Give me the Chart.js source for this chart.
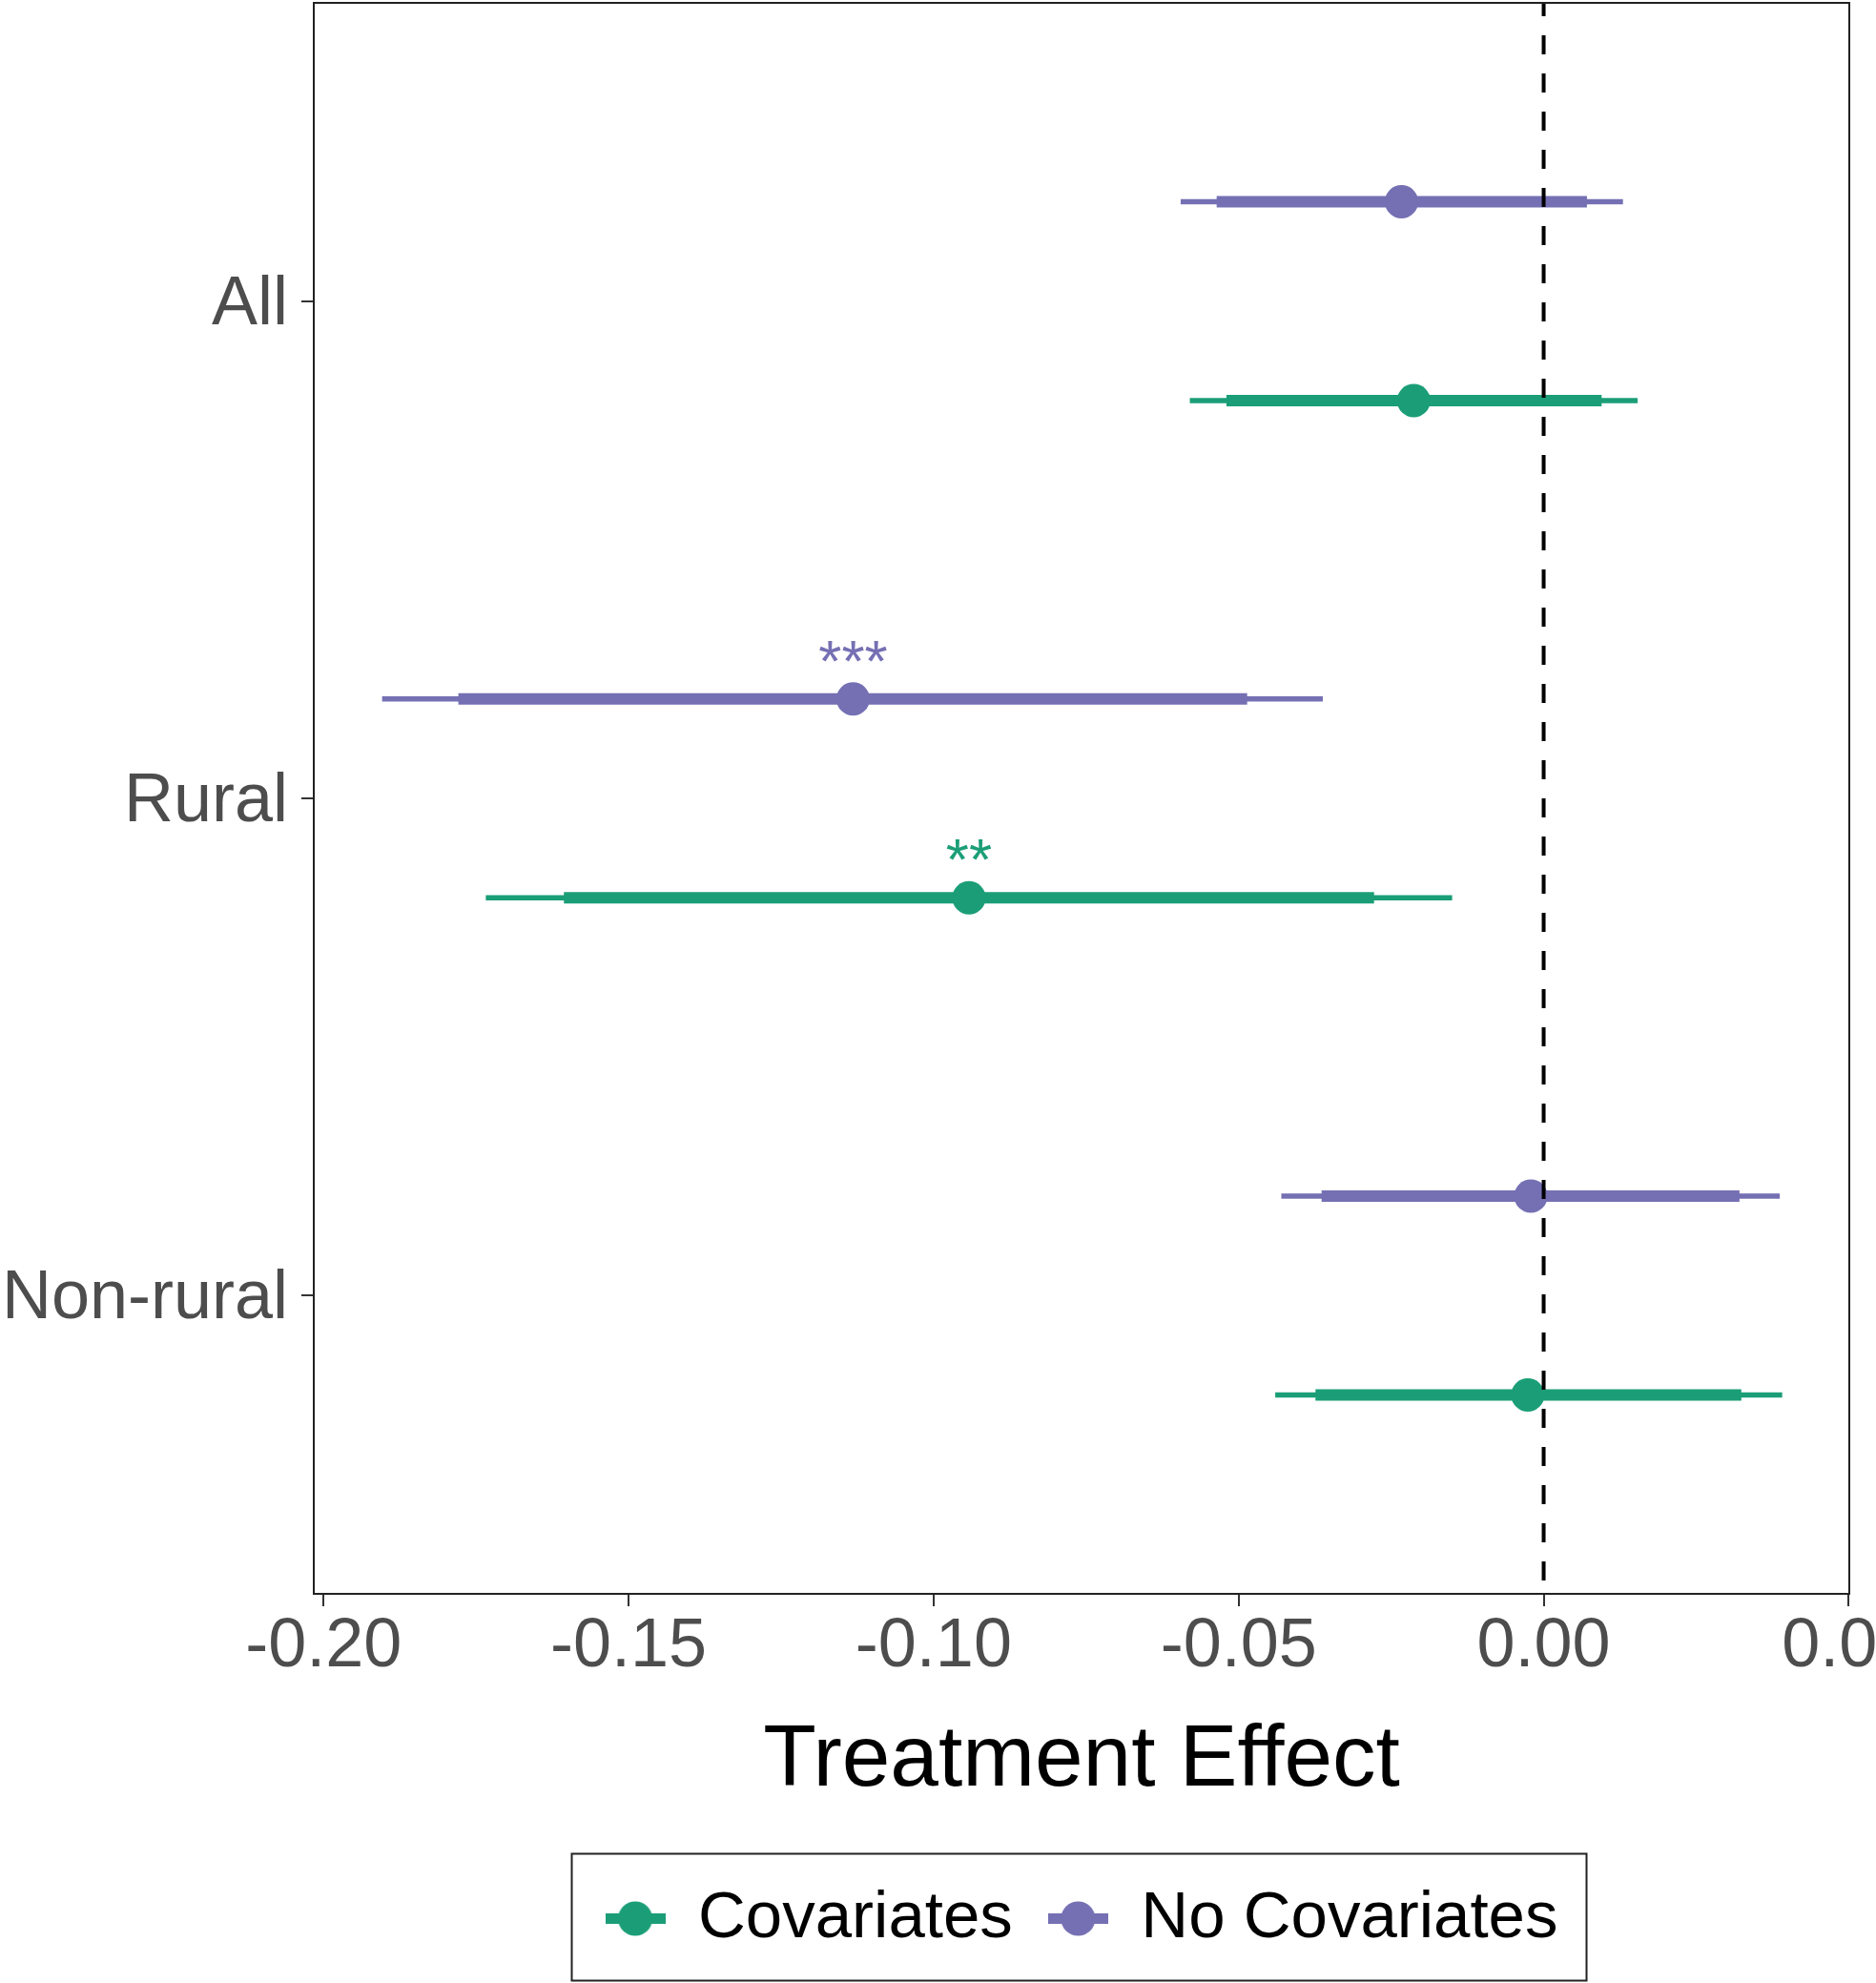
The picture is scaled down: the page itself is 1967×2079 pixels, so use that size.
<!DOCTYPE html>
<html>
<head>
<meta charset="utf-8">
<script src="https://cdn.jsdelivr.net/npm/chart.js@4.4.0/dist/chart.umd.min.js"></script>
<style>
  html, body { margin: 0; padding: 0; background: #fff; overflow: hidden; }
  #wrap { position: relative; width: 2040px; height: 2079px; }
</style>
</head>
<body>
<div id="wrap"><canvas id="chart"></canvas></div>
<script>
// --- data ---
const categories = ['All', 'Rural', 'Non-rural'];
const xTickValues = [-0.20, -0.15, -0.10, -0.05, 0.00, 0.05];

// No Covariates (purple)
const noCovEst  = [-0.0233, -0.1132, -0.0021];
const noCovLo90 = [-0.0536, -0.1779, -0.0364];
const noCovHi90 = [ 0.0071, -0.0486,  0.0321];
const noCovLo95 = [-0.0595, -0.1904, -0.0430];
const noCovHi95 = [ 0.0130, -0.0362,  0.0387];
const noCovStars = ['', '***', ''];

// Covariates (green)
const covEst  = [-0.0213, -0.0942, -0.0026];
const covLo90 = [-0.0520, -0.1606, -0.0374];
const covHi90 = [ 0.0095, -0.0278,  0.0324];
const covLo95 = [-0.0580, -0.1734, -0.0440];
const covHi95 = [ 0.0154, -0.0150,  0.0391];
const covStars = ['', '**', ''];

// --- styling ---
const GREEN = '#1B9E77';
const PURPLE = '#7570B3';
const FONT = "'Liberation Sans', Arial, sans-serif";
const DODGE = 0.2;
const THIN = 0.0264;   // barPercentage for 95% line
const THICK = 0.0575;  // barPercentage for 90% line

const catPos = categories.map((c, i) => i + 1);

function intervals(lo, hi) {
    return catPos.map((p, i) => ({ y: p, x: [lo[i], hi[i]] }));
}
function points(est, shift) {
    return catPos.map((p, i) => ({ y: p + shift, x: est[i] }));
}
function makeKey(color) {
    const c = document.createElement('canvas');
    c.width = 63; c.height = 37;
    const g = c.getContext('2d');
    g.fillStyle = color;
    g.fillRect(0, 13, 63, 11);
    g.beginPath();
    g.arc(31.5, 18.5, 18, 0, Math.PI * 2);
    g.fill();
    return c;
}

// panel border, significance stars, legend frame
const extras = {
    id: 'extras',
    afterDatasetsDraw(chart) {
        const { ctx, chartArea: a, scales } = chart;
        ctx.save();
        ctx.font = '62px ' + FONT;
        ctx.textAlign = 'center';
        ctx.textBaseline = 'alphabetic';
        const drawStars = (stars, est, shift, color) => {
            stars.forEach((s, i) => {
                if (!s) return;
                ctx.fillStyle = color;
                const x = scales.x.getPixelForValue(est[i]);
                const y = scales.y.getPixelForValue(catPos[i] + shift) - 19;
                ctx.fillText(s, x, y);
            });
        };
        drawStars(noCovStars, noCovEst, -DODGE, PURPLE);
        drawStars(covStars, covEst, DODGE, GREEN);
        ctx.strokeStyle = '#222';
        ctx.lineWidth = 2;
        ctx.strokeRect(a.left, a.top, a.right - a.left, a.bottom - a.top);
        ctx.restore();
    },
    afterDraw(chart) {
        const lg = chart.legend;
        if (!lg || !lg.legendHitBoxes || !lg.legendHitBoxes.length) return;
        const hb = lg.legendHitBoxes;
        const first = hb[0], last = hb[hb.length - 1];
        const cy = first.top + first.height / 2;
        const ctx = chart.ctx;
        ctx.save();
        ctx.strokeStyle = '#222';
        ctx.lineWidth = 2;
        const left = first.left - 35, right = last.left + last.width + 30;
        ctx.strokeRect(left, cy - 68, right - left, 133);
        ctx.restore();
    }
};

const ctx = document.getElementById('chart').getContext('2d');
new Chart(ctx, {
    type: 'bar',
    data: {
        datasets: [
            { label: 'No Covariates 95', data: intervals(noCovLo95, noCovHi95), stack: 'nocov',
              backgroundColor: PURPLE, barPercentage: THIN, order: 2 },
            { label: 'No Covariates 90', data: intervals(noCovLo90, noCovHi90), stack: 'nocov',
              backgroundColor: PURPLE, barPercentage: THICK, order: 2 },
            { label: 'Covariates 95', data: intervals(covLo95, covHi95), stack: 'cov',
              backgroundColor: GREEN, barPercentage: THIN, order: 2 },
            { label: 'Covariates 90', data: intervals(covLo90, covHi90), stack: 'cov',
              backgroundColor: GREEN, barPercentage: THICK, order: 2 },
            { type: 'scatter', label: 'No Covariates', data: points(noCovEst, -DODGE),
              backgroundColor: PURPLE, pointRadius: 17.5, pointBorderWidth: 0, order: 1 },
            { type: 'scatter', label: 'Covariates', data: points(covEst, DODGE),
              backgroundColor: GREEN, pointRadius: 17.5, pointBorderWidth: 0, order: 1 },
            { type: 'line', label: 'zero', data: [{ x: 0, y: 0.4 }, { x: 0, y: 3.6 }],
              borderColor: '#000', borderWidth: 4, borderDash: [20, 20], borderDashOffset: 6,
              pointRadius: 0, fill: false, order: 0 }
        ]
    },
    options: {
        indexAxis: 'y',
        responsive: true,
        maintainAspectRatio: false,
        animation: false,
        layout: { autoPadding: false, padding: { left: 0, right: 101, top: 3, bottom: 23 } },
        datasets: {
            bar: { categoryPercentage: 0.8, borderWidth: 0, borderSkipped: false, grouped: true }
        },
        scales: {
            x: {
                type: 'linear',
                stacked: false,
                min: -0.2016,
                max: 0.0501,
                afterBuildTicks: (scale) => { scale.ticks = xTickValues.map(v => ({ value: v })); },
                afterFit: (scale) => { scale.height = 269; },
                grid: { drawOnChartArea: false, drawTicks: true, tickLength: 13, color: '#333', lineWidth: 2 },
                border: { display: true, color: '#222', width: 2 },
                ticks: {
                    padding: 0,
                    color: '#4D4D4D',
                    font: { family: FONT, size: 72 },
                    maxRotation: 0,
                    autoSkip: false,
                    callback: (v) => Number(v).toFixed(2)
                },
                title: {
                    display: true,
                    text: 'Treatment Effect',
                    color: '#000',
                    font: { family: FONT, size: 91 },
                    padding: { top: 0, bottom: 38 }
                }
            },
            y: {
                type: 'linear',
                reverse: true,
                offset: false,
                min: 0.4,
                max: 3.6,
                afterBuildTicks: (scale) => { scale.ticks = catPos.map(v => ({ value: v })); },
                afterFit: (scale) => { scale.width = 329; scale.paddingTop = 0; scale.paddingBottom = 0; },
                grid: { offset: false, drawOnChartArea: false, drawTicks: true, tickLength: 13, color: '#333', lineWidth: 2 },
                border: { display: true, color: '#222', width: 2 },
                ticks: {
                    padding: 14,
                    labelOffset: 4,
                    color: '#4D4D4D',
                    font: { family: FONT, size: 72 },
                    autoSkip: false,
                    callback: (v) => categories[Math.round(v) - 1]
                }
            }
        },
        plugins: {
            tooltip: { enabled: false },
            legend: {
                position: 'bottom',
                fullSize: false,
                labels: {
                    usePointStyle: true,
                    pointStyleWidth: 63,
                    boxHeight: 36,
                    padding: 37,
                    color: '#000',
                    font: { family: FONT, size: 69 },
                    generateLabels: () => [
                        { text: 'Covariates', pointStyle: makeKey(GREEN), fillStyle: GREEN,
                          strokeStyle: GREEN, lineWidth: 0, hidden: false, datasetIndex: 5 },
                        { text: 'No Covariates', pointStyle: makeKey(PURPLE), fillStyle: PURPLE,
                          strokeStyle: PURPLE, lineWidth: 0, hidden: false, datasetIndex: 4 }
                    ]
                }
            }
        }
    },
    plugins: [extras]
});
</script>
</body>
</html>
